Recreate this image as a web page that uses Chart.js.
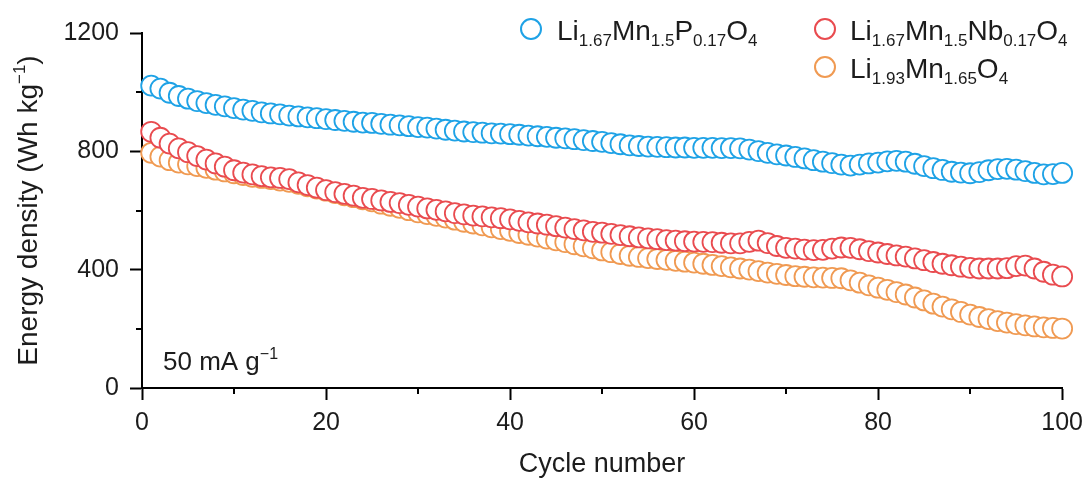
<!DOCTYPE html>
<html>
<head>
<meta charset="utf-8">
<script src="https://cdn.jsdelivr.net/npm/chart.js@4/dist/chart.umd.min.js"></script>
<style>
  html, body { margin: 0; padding: 0; background: #fff; }
  #wrap { width: 1091px; height: 488px; position: relative; }
</style>
</head>
<body>
<div id="wrap"><canvas id="c" width="1091" height="488"></canvas></div>
<script>
// Cycle numbers on the x axis
const cycles = Array.from({ length: 100 }, (_, i) => i + 1);

// Energy density (Wh kg^-1) per cycle
const liMnP = [
  1022, 1012, 998, 987, 978, 970, 963, 957, 952, 946,
  941, 937, 932, 928, 925, 921, 918, 915, 912, 909,
  906, 903, 900, 897, 896, 893, 890, 888, 885, 882,
  880, 877, 873, 870, 867, 865, 863, 861, 860, 858,
  856, 853, 851, 849, 846, 844, 841, 838, 835, 832,
  828, 824, 820, 818, 816, 815, 814, 813, 813, 812,
  812, 812, 811, 811, 810, 806, 801, 795, 790, 786,
  781, 776, 770, 765, 760, 755, 752, 755, 759, 762,
  766, 768, 765, 758, 750, 743, 737, 731, 728, 726,
  730, 736, 740, 741, 738, 733, 727, 722, 723, 727
];
const liMnNb = [
  866, 846, 826, 810, 797, 784, 772, 759, 748, 736,
  728, 722, 716, 712, 710, 706, 695, 686, 677, 669,
  662, 656, 650, 643, 639, 634, 629, 625, 619, 613,
  607, 602, 597, 591, 587, 583, 580, 577, 574, 570,
  565, 560, 556, 552, 547, 542, 537, 533, 528, 525,
  521, 517, 513, 509, 506, 503, 500, 498, 496, 495,
  494, 493, 491, 489, 489, 494, 498, 490, 480, 474,
  471, 468, 466, 467, 471, 475, 474, 469, 463, 458,
  453, 448, 444, 438, 432, 426, 420, 415, 410, 406,
  404, 404, 404, 405, 412, 414, 404, 393, 383, 377
];
const liMnO = [
  795, 782, 770, 762, 756, 750, 744, 738, 732, 726,
  720, 714, 710, 706, 701, 697, 690, 682, 674, 667,
  659, 651, 645, 638, 631, 623, 616, 609, 601, 594,
  588, 582, 576, 569, 562, 556, 550, 543, 537, 531,
  524, 518, 512, 505, 499, 493, 486, 479, 472, 465,
  459, 453, 447, 443, 439, 436, 433, 430, 427, 424,
  420, 416, 412, 408, 404, 400, 395, 390, 386, 382,
  378, 376, 374, 373, 372, 371, 364, 356, 347, 339,
  332, 324, 316, 306, 296, 285, 275, 266, 257, 248,
  240, 233, 226, 221, 216, 212, 208, 205, 203, 201
];

// Axis ticks
const xMajorTicks = [0, 20, 40, 60, 80, 100];
const xMinorTicks = [10, 30, 50, 70, 90];
const yMajorTicks = [0, 400, 800, 1200];
const yMinorTicks = [200, 600, 1000];

// Series names as rich-text pieces: [text, 'n' | 'sub']
const seriesNames = [
  [['Li', 'n'], ['1.67', 'sub'], ['Mn', 'n'], ['1.5', 'sub'], ['P', 'n'], ['0.17', 'sub'], ['O', 'n'], ['4', 'sub']],
  [['Li', 'n'], ['1.67', 'sub'], ['Mn', 'n'], ['1.5', 'sub'], ['Nb', 'n'], ['0.17', 'sub'], ['O', 'n'], ['4', 'sub']],
  [['Li', 'n'], ['1.93', 'sub'], ['Mn', 'n'], ['1.65', 'sub'], ['O', 'n'], ['4', 'sub']]
];
const seriesColors = ['#1ea2e6', '#e94b4f', '#f09a52'];

const FONT = '"Liberation Sans", Arial, sans-serif';
const TEXT = '#1c1c1c';

function toPoints(vals) {
  return cycles.map((c, i) => ({ x: c, y: vals[i] }));
}

// Draws a run of mixed normal / subscript / superscript text, returns end x
function drawRich(ctx, x, y, parts, size) {
  const small = Math.round(size * 0.6);
  ctx.textAlign = 'left';
  ctx.textBaseline = 'alphabetic';
  for (const [t, kind] of parts) {
    if (kind === 'n') {
      ctx.font = size + 'px ' + FONT;
      ctx.fillText(t, x, y);
    } else if (kind === 'sub') {
      ctx.font = small + 'px ' + FONT;
      ctx.fillText(t, x, y + size * 0.23);
    } else {
      ctx.font = small + 'px ' + FONT;
      ctx.fillText(t, x, y - size * 0.42);
    }
    x += ctx.measureText(t).width;
  }
  return x;
}
function richWidth(ctx, parts, size) {
  const small = Math.round(size * 0.6);
  let w = 0;
  for (const [t, kind] of parts) {
    ctx.font = (kind === 'n' ? size : small) + 'px ' + FONT;
    w += ctx.measureText(t).width;
  }
  return w;
}

const decorations = {
  id: 'decorations',
  afterDraw(chart) {
    const ctx = chart.ctx;
    const xs = chart.scales.x, ys = chart.scales.y;
    const area = chart.chartArea;
    ctx.save();

    // minor ticks
    ctx.strokeStyle = '#000';
    ctx.lineWidth = 2;
    ctx.beginPath();
    for (const v of xMinorTicks) {
      const px = Math.round(xs.getPixelForValue(v));
      ctx.moveTo(px, area.bottom);
      ctx.lineTo(px, area.bottom + 6);
    }
    for (const v of yMinorTicks) {
      const py = Math.round(ys.getPixelForValue(v));
      ctx.moveTo(area.left, py);
      ctx.lineTo(area.left - 6, py);
    }
    ctx.stroke();

    ctx.fillStyle = TEXT;

    // x axis title
    ctx.font = '27px ' + FONT;
    ctx.textAlign = 'center';
    ctx.textBaseline = 'alphabetic';
    ctx.fillText('Cycle number', (area.left + area.right) / 2, 472);

    // y axis title, rotated
    const yTitle = [['Energy density (Wh kg', 'n'], ['\u22121', 'sup'], [')', 'n']];
    const wt = richWidth(ctx, yTitle, 28);
    ctx.save();
    ctx.translate(37, (area.top + area.bottom) / 2);
    ctx.rotate(-Math.PI / 2);
    drawRich(ctx, -wt / 2, 0, yTitle, 28);
    ctx.restore();

    // current density note
    drawRich(ctx, 163, 370, [['50 mA g', 'n'], ['\u22121', 'sup']], 26);

    // legend
    const legend = [
      { cx: 531, cy: 29, tx: 557, ty: 40 },
      { cx: 825, cy: 29, tx: 850, ty: 40 },
      { cx: 825, cy: 67, tx: 850, ty: 78 }
    ];
    legend.forEach((l, i) => {
      ctx.beginPath();
      ctx.arc(l.cx, l.cy, 10, 0, Math.PI * 2);
      ctx.fillStyle = '#fff';
      ctx.fill();
      ctx.lineWidth = 2;
      ctx.strokeStyle = seriesColors[i];
      ctx.stroke();
      ctx.fillStyle = TEXT;
      drawRich(ctx, l.tx, l.ty, seriesNames[i], 28);
    });

    ctx.restore();
  }
};

const mkSet = (vals, i) => ({
  label: seriesNames[i].map(p => p[0]).join(''),
  data: toPoints(vals),
  showLine: false,
  pointStyle: 'circle',
  pointRadius: 10,
  pointBorderWidth: 1.8,
  pointBackgroundColor: '#ffffff',
  pointBorderColor: seriesColors[i],
  clip: false
});

new Chart(document.getElementById('c'), {
  type: 'scatter',
  data: {
    // first dataset is painted last, so P sits on top and Nb covers the undoped set
    datasets: [mkSet(liMnP, 0), mkSet(liMnNb, 1), mkSet(liMnO, 2)]
  },
  plugins: [decorations],
  options: {
    responsive: false,
    animation: false,
    devicePixelRatio: 1,
    events: [],
    layout: { padding: { top: 33, right: 27, left: 0, bottom: 0 } },
    plugins: { legend: { display: false }, tooltip: { enabled: false } },
    scales: {
      x: {
        type: 'linear',
        min: 0, max: 100,
        afterBuildTicks: s => { s.ticks = xMajorTicks.map(v => ({ value: v })); },
        afterFit: s => { s.height = 100; },
        ticks: { font: { size: 25, family: FONT }, color: TEXT, padding: 8, maxRotation: 0, callback: v => String(v) },
        grid: { drawOnChartArea: false, drawTicks: true, tickLength: 12, tickWidth: 2, tickColor: '#000' },
        border: { display: true, color: '#000', width: 2 }
      },
      y: {
        type: 'linear',
        min: 0, max: 1200,
        afterBuildTicks: s => { s.ticks = yMajorTicks.map(v => ({ value: v })); },
        afterFit: s => { s.width = 142; },
        ticks: { font: { size: 25, family: FONT }, color: TEXT, padding: 11, callback: v => String(v) },
        grid: { drawOnChartArea: false, drawTicks: true, tickLength: 12, tickWidth: 2, tickColor: '#000' },
        border: { display: true, color: '#000', width: 2 }
      }
    }
  }
});
</script>
</body>
</html>
